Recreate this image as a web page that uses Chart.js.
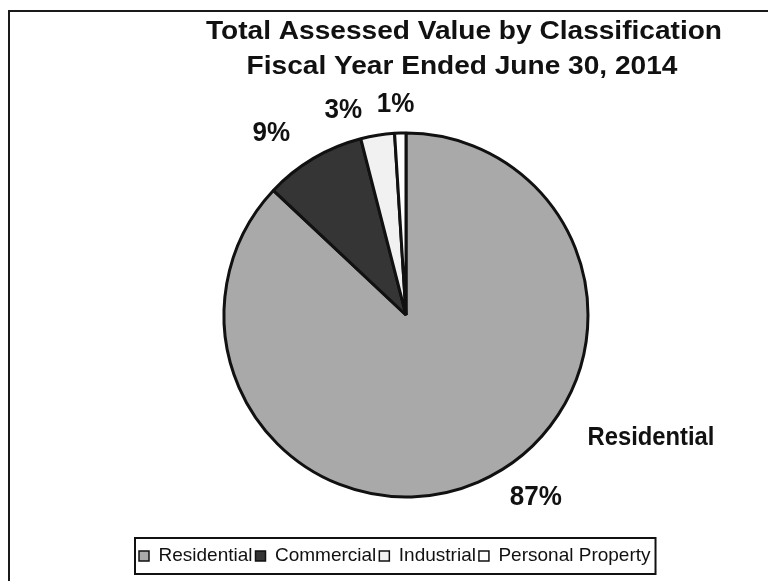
<!DOCTYPE html>
<html>
<head>
<meta charset="utf-8">
<script src="https://cdn.jsdelivr.net/npm/chart.js@4.4.1/dist/chart.umd.min.js"></script>
<style>
  html, body { margin: 0; padding: 0; background: #fff; }
  #wrap { position: relative; width: 768px; height: 581px; }
</style>
</head>
<body>
<div id="wrap"><canvas id="pieChart" width="768" height="581"></canvas></div>
<script>
const titleLines = ['Total Assessed Value by Classification', 'Fiscal Year Ended June 30, 2014'];
const categories = ['Residential', 'Commercial', 'Industrial', 'Personal Property'];
const shares = [87, 9, 3, 1];
const sliceColors = ['#a9a9a9', '#353535', '#f1f1f1', '#ffffff'];
const namedSlice = 'Residential';

// where the % labels sit: shift (deg) from the slice middle and gap past the rim (px)
const labelShift = [-12, -6, -8, -1];
const labelGap = [42, 44, 32, 29];

const fontFamily = '"Liberation Sans", Arial, sans-serif';

function drawScaledText(ctx, text, x, y, font, scaleX) {
    ctx.save();
    ctx.font = font;
    ctx.translate(x, y);
    ctx.scale(scaleX, 1);
    ctx.fillText(text, 0, 0);
    ctx.restore();
}

// white page, open frame on the left/top, two-line title
const framePlugin = {
    id: 'frame',
    beforeDraw(chart) {
        const ctx = chart.ctx;
        ctx.save();
        ctx.fillStyle = '#fff';
        ctx.fillRect(0, 0, chart.width, chart.height);
        ctx.strokeStyle = '#1a1a1a';
        ctx.lineWidth = 2;
        ctx.beginPath();
        ctx.moveTo(9, chart.height + 2);
        ctx.lineTo(9, 11);
        ctx.lineTo(chart.width + 2, 11);
        ctx.stroke();
        ctx.restore();
    },
    afterDraw(chart) {
        const ctx = chart.ctx;
        ctx.save();
        ctx.fillStyle = '#111';
        ctx.textAlign = 'center';
        ctx.textBaseline = 'alphabetic';
        drawScaledText(ctx, titleLines[0], 464, 39, 'bold 26px ' + fontFamily, 1.08);
        drawScaledText(ctx, titleLines[1], 462, 74, 'bold 26px ' + fontFamily, 1.08);
        ctx.restore();
    }
};

// percentage labels outside the pie, plus the category name for Residential
const sliceLabels = {
    id: 'sliceLabels',
    afterDatasetsDraw(chart) {
        const ctx = chart.ctx;
        const meta = chart.getDatasetMeta(0);
        const total = shares.reduce((a, b) => a + b, 0);
        ctx.save();
        ctx.fillStyle = '#111';
        ctx.textAlign = 'center';
        ctx.textBaseline = 'middle';
        meta.data.forEach((arc, i) => {
            const p = arc.getProps(['x', 'y', 'startAngle', 'endAngle', 'outerRadius'], true);
            const mid = (p.startAngle + p.endAngle) / 2;
            const a = mid + labelShift[i] * Math.PI / 180;
            const r = p.outerRadius + labelGap[i];
            const pct = Math.round(shares[i] / total * 100) + '%';
            drawScaledText(ctx, pct, p.x + Math.cos(a) * r, p.y + Math.sin(a) * r, 'bold 28px ' + fontFamily, 0.93);

            if (categories[i] === namedSlice) {
                const an = mid - 40 * Math.PI / 180;
                const rn = p.outerRadius + 92;
                drawScaledText(ctx, categories[i], p.x + Math.cos(an) * rn, p.y + Math.sin(an) * rn, 'bold 26px ' + fontFamily, 0.915);
            }
        });
        ctx.restore();
    }
};

// thin box around the legend row
const legendBox = {
    id: 'legendBox',
    afterDraw(chart) {
        const lg = chart.legend;
        if (!lg || !lg.legendHitBoxes.length) return;
        const boxes = lg.legendHitBoxes;
        const first = boxes[0];
        const last = boxes[boxes.length - 1];
        const cy = first.top + first.height / 2;
        const ctx = chart.ctx;
        ctx.save();
        ctx.strokeStyle = '#111';
        ctx.lineWidth = 2;
        ctx.strokeRect(first.left - 4, cy - 18, last.left + last.width + 9 - first.left, 36);
        ctx.restore();
    }
};

const ctx = document.getElementById('pieChart').getContext('2d');
const pieChart = new Chart(ctx, {
    type: 'pie',
    data: {
        labels: categories,
        datasets: [{
            data: shares,
            backgroundColor: sliceColors,
            borderColor: '#111',
            borderWidth: 3
        }]
    },
    options: {
        responsive: false,
        animation: false,
        devicePixelRatio: 1,
        radius: 182,
        layout: {
            padding: { left: 136, right: 92, top: 86.5, bottom: 5.5 }
        },
        plugins: {
            title: { display: false },
            tooltip: { enabled: false },
            legend: {
                position: 'bottom',
                align: 'start',
                labels: {
                    boxWidth: 10,
                    boxHeight: 10,
                    padding: 3,
                    color: '#111',
                    font: { family: fontFamily, size: 19 },
                    generateLabels(chart) {
                        const items = Chart.overrides.doughnut.plugins.legend.labels.generateLabels(chart);
                        items.forEach(item => {
                            item.lineWidth = 1.5;
                            item.strokeStyle = '#111';
                        });
                        return items;
                    }
                }
            }
        }
    },
    plugins: [framePlugin, sliceLabels, legendBox]
});
</script>
</body>
</html>
